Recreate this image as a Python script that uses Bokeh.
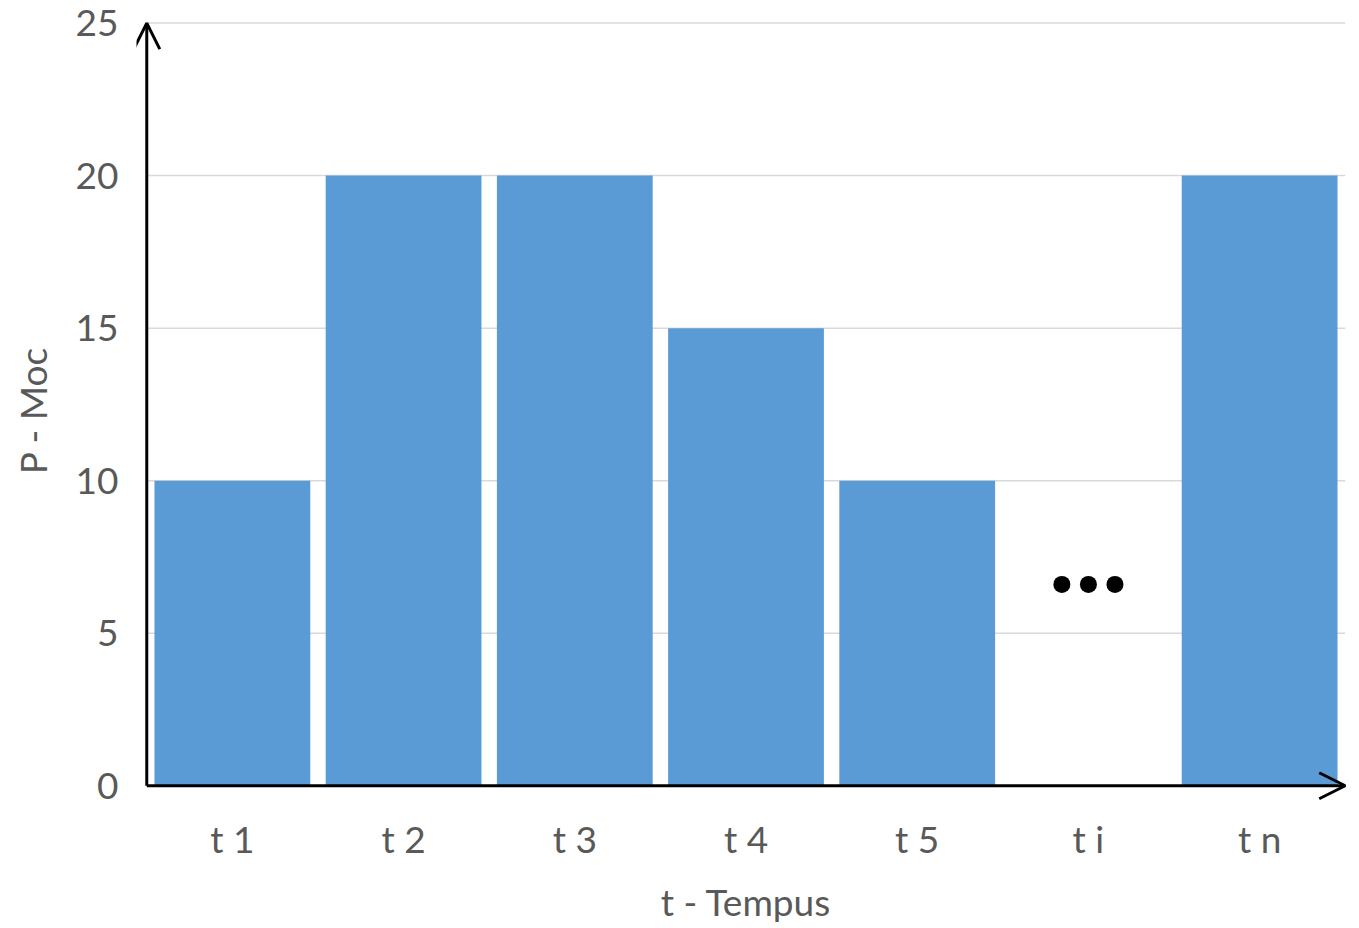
from bokeh.plotting import figure
from bokeh.models import ColumnDataSource, Arrow, OpenHead, FactorRange, Range1d
from bokeh.transform import dodge
from bokeh.embed import file_html
from bokeh.resources import INLINE

categories = ["t 1", "t 2", "t 3", "t 4", "t 5", "t i", "t n"]
values = [10, 20, 20, 15, 10, 0, 20]
y_ticks = [0, 5, 10, 15, 20, 25]
ellipsis_cat = ["t i", "t i", "t i"]
ellipsis_y = [6.6, 6.6, 6.6]
ellipsis_offsets = [-0.155, 0.0, 0.155]

FONT = "Lato"
GREY = "#595959"
N = len(categories)

p = figure(x_range=FactorRange(*categories, range_padding=0.06,
                               range_padding_units="absolute"),
           y_range=Range1d(-0.55, 25.15),
           width=1359, height=928,
           output_backend="svg", toolbar_location=None,
           min_border_left=136, min_border_right=4,
           min_border_top=18, min_border_bottom=126)
p.outline_line_color = None

# horizontal gridlines, from the y axis to the end of the category axis
grid_y = y_ticks[1:]
p.segment(x0=[0] * len(grid_y), x1=[N] * len(grid_y), y0=grid_y, y1=grid_y,
          line_color="#d9d9d9", line_width=1.5)

src = ColumnDataSource(dict(x=categories, top=values))
p.vbar(x="x", top="top", width=0.91, source=src,
       fill_color="#5b9bd5", line_color=None)

for c, yv, off in zip(ellipsis_cat, ellipsis_y, ellipsis_offsets):
    s = ColumnDataSource(dict(x=[c], y=[yv]))
    p.scatter(x=dodge("x", off, range=p.x_range), y="y", source=s,
              size=17, fill_color="black", line_color=None)

p.xgrid.grid_line_color = None
p.ygrid.grid_line_color = None
p.yaxis.ticker = y_ticks

for ax in (p.xaxis, p.yaxis):
    ax.axis_line_color = None
    ax.major_tick_line_color = None
    ax.minor_tick_line_color = None
    ax.major_label_text_font = FONT
    ax.major_label_text_font_size = "37px"
    ax.major_label_text_color = GREY
    ax.axis_label_text_font = FONT
    ax.axis_label_text_font_size = "37px"
    ax.axis_label_text_color = GREY
    ax.axis_label_text_font_style = "normal"

p.xaxis.axis_label = "t - Tempus"
p.yaxis.axis_label = "P - Moc"
p.xaxis.major_label_standoff = 7
p.yaxis.major_label_standoff = 12
p.xaxis.axis_label_standoff = 15
p.yaxis.axis_label_standoff = 18

p.add_layout(Arrow(x_start=0, y_start=0, x_end=0, y_end=25,
                   line_color="black", line_width=3,
                   end=OpenHead(size=26, line_width=3, line_color="black")))
p.add_layout(Arrow(x_start=0, y_start=0, x_end=N, y_end=0,
                   line_color="black", line_width=3,
                   end=OpenHead(size=26, line_width=3, line_color="black")))

open("out.html", "w").write(file_html(p, INLINE))
